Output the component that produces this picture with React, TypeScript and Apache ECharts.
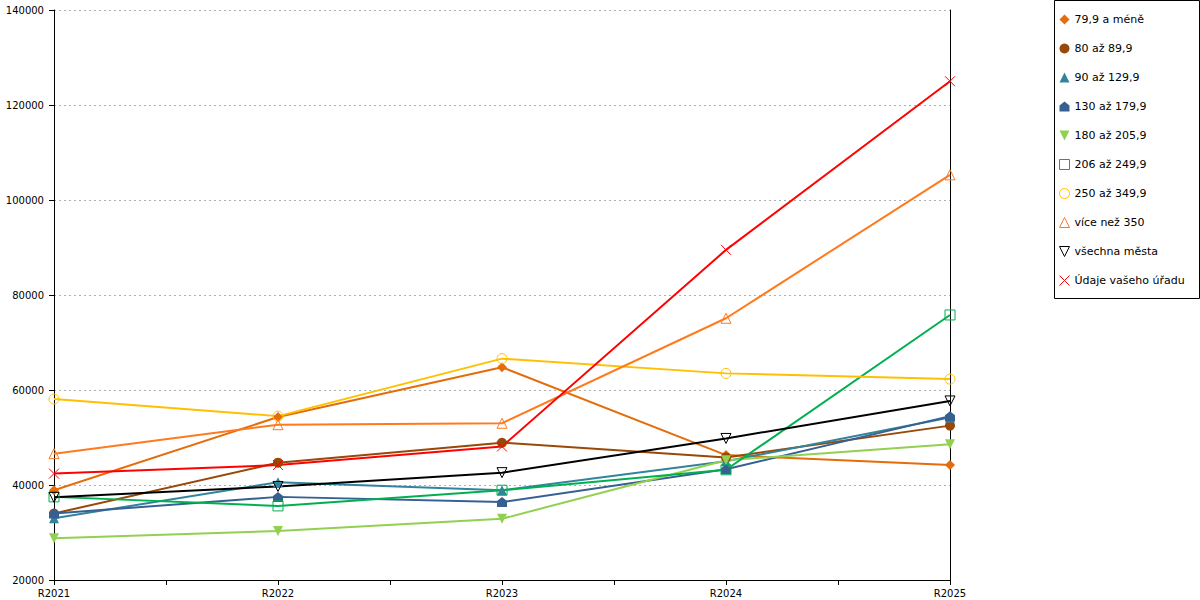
import React, { useEffect, useRef } from "react";
import * as echarts from "echarts";

const categories = ["R2021", "R2022", "R2023", "R2024", "R2025"];

const names = [
  "79,9 a méně",
  "80 až 89,9",
  "90 až 129,9",
  "130 až 179,9",
  "180 až 205,9",
  "206 až 249,9",
  "250 až 349,9",
  "více než 350",
  "všechna města",
  "Údaje vašeho úřadu",
];

const s79 = [38900, 54300, 64800, 46300, 44200];
const s80 = [34000, 44700, 48900, 45800, 52500];
const s90 = [33000, 40600, 38900, 45000, 54200];
const s130 = [34000, 37500, 36400, 43300, 54500];
const s180 = [28800, 30300, 32900, 45200, 48600];
const s206 = [37500, 35600, 38900, 43200, 75800];
const s250 = [58100, 54500, 66600, 63500, 62300];
const s350 = [46600, 52700, 53000, 75100, 105300];
const sAll = [37400, 39700, 42600, 49800, 57700];
const sOffice = [42400, 44200, 48100, 89500, 125000];

const yTicks = [20000, 40000, 60000, 80000, 100000, 120000, 140000];

const values = [s79, s80, s90, s130, s180, s206, s250, s350, sAll, sOffice];
const colors = [
  "#e46c0a",
  "#984807",
  "#31849b",
  "#366092",
  "#92d050",
  "#00b050",
  "#ffc000",
  "#ff7a1c",
  "#000000",
  "#ff0000",
];
const HOUSE = "path://M5,0 L10,4 L10,10 L0,10 L0,4 Z";
const INV = "path://M0,0 L10,0 L5,10 Z";
const CROSS = "path://M0,0 L10,10 M10,0 L0,10";
const symbols = ["diamond", "circle", "triangle", HOUSE, INV, "rect", "circle", "triangle", INV, CROSS];
const hollow = [false, false, false, false, false, true, true, true, true, true];

export default function App() {
  const ref = useRef<HTMLDivElement>(null);
  useEffect(() => {
    if (!ref.current) return;
    const chart = echarts.init(ref.current, undefined, { renderer: "svg" });
    const font = "DejaVu Sans";
    const itemStyles = names.map((_, i) =>
      hollow[i]
        ? { color: "rgba(0,0,0,0)", borderColor: colors[i], borderWidth: 1 }
        : { color: colors[i], borderColor: colors[i], borderWidth: 0 }
    );
    const series = names.map((name, i) => ({
      name,
      type: "line",
      xAxisIndex: 0,
      yAxisIndex: 0,
      data: values[i].map((v, j) => [j, v]),
      symbol: symbols[i],
      symbolSize: 10,
      clip: false,
      lineStyle: { color: colors[i], width: 2 },
      itemStyle: itemStyles[i],
      emphasis: { disabled: true },
    }));
    chart.setOption({
      animation: false,
      backgroundColor: "#fff",
      textStyle: { fontFamily: font },
      grid: { left: 54, right: 250, top: 10, bottom: 20, containLabel: false },
      legend: {
        orient: "vertical",
        left: 1059,
        top: 14,
        padding: 0,
        itemWidth: 10,
        itemHeight: 10,
        itemGap: 18,
        textStyle: { fontFamily: font, fontSize: 11, color: "#000" },
        data: names.map((name, i) => ({
          name,
          icon: symbols[i],
          itemStyle: itemStyles[i],
        })),
      },
      graphic: [
        {
          type: "rect",
          shape: { x: 1054.5, y: 0.5, width: 145, height: 298 },
          style: { fill: "none", stroke: "#000", lineWidth: 1 },
          silent: true,
        },
      ],
      xAxis: {
        type: "value",
        min: 0,
        max: categories.length - 1,
        interval: 0.5,
        axisLine: { show: true, lineStyle: { color: "#000", width: 1 } },
        axisTick: { show: true, length: 5, lineStyle: { color: "#000" } },
        splitLine: { show: false },
        axisLabel: {
          color: "#000",
          fontSize: 10,
          fontFamily: font,
          margin: 8,
          showMinLabel: true,
          showMaxLabel: true,
          hideOverlap: false,
          formatter: (v: number) =>
            Number.isInteger(v) ? categories[v] ?? "" : "",
        },
      },
      yAxis: [
        {
          type: "value",
          min: yTicks[0],
          max: yTicks[yTicks.length - 1],
          interval: yTicks[1] - yTicks[0],
          axisLine: { show: true, lineStyle: { color: "#000", width: 1 } },
          axisTick: { show: true, length: 5, lineStyle: { color: "#000" } },
          splitLine: {
            show: true,
            lineStyle: { color: "#b0b0b0", type: [2, 3], width: 1 },
          },
          axisLabel: {
            color: "#000",
            fontSize: 10,
            fontFamily: font,
            margin: 10,
            formatter: (v: number) => String(v),
          },
        },
        {
          type: "value",
          position: "right",
          min: yTicks[0],
          max: yTicks[yTicks.length - 1],
          interval: yTicks[1] - yTicks[0],
          axisLine: { show: true, lineStyle: { color: "#000", width: 1 } },
          axisTick: { show: false },
          axisLabel: { show: false },
          splitLine: { show: false },
        },
      ],
      series,
    });
    return () => chart.dispose();
  }, []);
  return (
    <div
      ref={ref}
      style={{ position: "fixed", left: 0, top: 0, width: 1200, height: 600 }}
    />
  );
}
